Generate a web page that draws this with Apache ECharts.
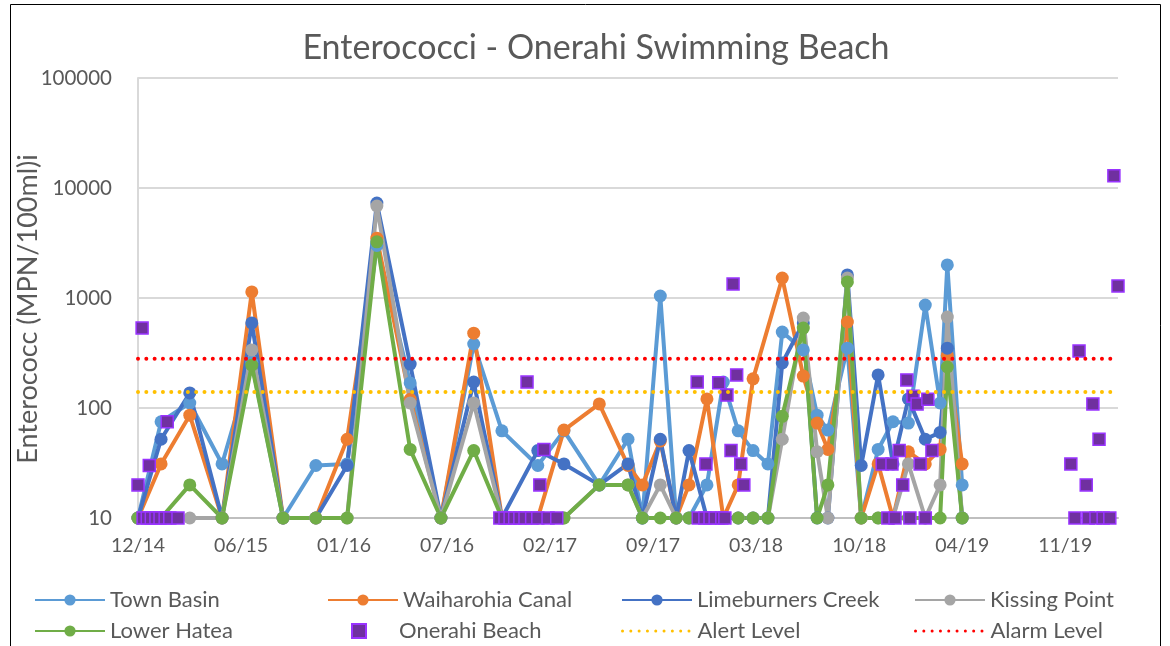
<!DOCTYPE html>
<html><head><meta charset="utf-8">
<script src="https://cdn.jsdelivr.net/npm/echarts@6/dist/echarts.min.js"></script>
<style>html,body{margin:0;padding:0;background:#fff}#c{width:1170px;height:646px}</style>
</head><body><div id="c"></div>
<script>
// ---- data ----
const sampleDates = ['2014-12-01','2015-01-15','2015-03-12','2015-05-14','2015-07-11','2015-09-10','2015-11-13','2016-01-13','2016-03-11','2016-05-15','2016-07-14','2016-09-16','2016-11-10','2017-01-19','2017-03-11','2017-05-19','2017-07-14','2017-08-11','2017-09-15','2017-10-16','2017-11-10','2017-12-15','2018-01-16','2018-02-14','2018-03-15','2018-04-13','2018-05-11','2018-06-21','2018-07-18','2018-08-08','2018-09-15','2018-10-12','2018-11-14','2018-12-13','2019-01-12','2019-02-14','2019-03-15','2019-03-29','2019-04-27'];
const townBasin   = [10,75,111,31,260,10,30,31,3000,169,10,382,62,30,62,20,52,10,1043,10,10,20,172,62,41,31,490,337,86,63,350,10,42,75,73,863,111,2000,20];
const waiharohia  = [10,31,86,10,1135,10,10,52,3500,120,10,479,10,10,63,109,30,20,50,10,20,121,10,20,184,null,1520,195,73,42,605,10,31,10,40,31,42,300,31];
const limeburners = [10,52,137,10,593,10,10,30,7300,251,10,172,10,41,31,20,31,10,52,10,41,10,10,10,10,10,257,593,10,10,1620,30,200,31,121,52,60,350,10];
const kissingPoint= [10,10,10,10,337,10,10,10,6860,111,10,111,10,10,10,20,20,10,20,10,10,10,10,10,10,10,52,658,40,10,1520,10,10,10,31,10,20,671,10];
const lowerHatea  = [10,10,20,10,245,10,10,10,3240,42,10,41,10,10,10,20,20,10,10,10,10,10,10,10,10,10,84,533,10,20,1400,10,10,10,10,10,10,236,10];

const onerahiDates = ['2014-12-01','2014-12-09','2014-12-11','2014-12-19','2014-12-23','2014-12-27','2015-01-05','2015-01-13','2015-01-23','2015-01-27','2015-02-01','2015-02-17',
 '2016-11-06','2016-11-16','2016-11-26','2016-12-05','2016-12-15','2016-12-25','2016-12-29','2017-01-07','2017-01-19','2017-01-23','2017-01-31','2017-02-08','2017-02-25',
 '2017-11-26','2017-11-28','2017-12-11','2017-12-13','2017-12-21','2017-12-31','2018-01-07','2018-01-13','2018-01-19','2018-01-23','2018-01-31','2018-02-04','2018-02-11','2018-02-19','2018-02-25',
 '2018-11-22','2018-12-03','2018-12-11','2018-12-17','2018-12-25','2019-01-01','2019-01-09','2019-01-15','2019-01-21','2019-01-29','2019-02-04','2019-02-14','2019-02-19','2019-02-27',
 '2019-11-25','2019-12-03','2019-12-11','2019-12-25','2019-12-29','2020-01-07','2020-01-13','2020-01-19','2020-01-27','2020-02-09','2020-02-17','2020-02-25'];
const onerahiBeach = [20,533,10,10,30,10,10,10,10,75,10,10,
 10,10,10,10,10,10,172,10,10,20,42,10,10,
 172,10,10,31,10,10,170,10,10,131,41,1340,200,31,20,
 31,10,31,10,41,20,180,10,128,109,31,10,120,41,
 31,10,330,20,10,109,10,52,10,10,12900,1285];

const alertLevel = 140;
const alarmLevel = 280;

const xTickLabels = ['12/14','06/15','01/16','07/16','02/17','09/17','03/18','10/18','04/19','11/19'];
const yTickLabels = ['10','100','1000','10000','100000'];
const axisStart = '2014-12-01';
const axisEnd = '2020-02-25';
const tickDays = 201;

// ---- helpers ----
const FONT = 'Lato, "Open Sans", sans-serif';
const GREY = '#595959';
const DAY = 864e5;
const t0 = Date.parse(axisStart);
const toDay = s => Math.round((Date.parse(s) - t0) / DAY);
const pairs = (dates, vals) => dates.map((d, i) => vals[i] == null ? null : [toDay(d), vals[i]]).filter(Boolean);
const xMax = toDay(axisEnd);

function site(name, color, vals) {
  return {
    name, type: 'line', data: pairs(sampleDates, vals),
    symbol: 'circle', symbolSize: 13, showSymbol: true,
    lineStyle: { color, width: 4 }, itemStyle: { color },
    emphasis: { disabled: true }, animation: false, z: 2
  };
}
function level(name, color, v) {
  return {
    name, type: 'line', data: [[0, v], [xMax, v]], symbol: 'none',
    lineStyle: { color, width: 4, type: [0.01, 8.3], cap: 'round' },
    itemStyle: { color }, emphasis: { disabled: true }, animation: false, z: 4
  };
}

function legendAt(left, top, item) {
  return {
    left, top, padding: 0, orient: 'horizontal', itemWidth: 70, itemHeight: 14,
    textStyle: { color: GREY, fontSize: 22, fontFamily: FONT, lineHeight: 24 },
    selectedMode: false, data: [item]
  };
}
const R1 = 588, R2 = 619;
const hideSym = { opacity: 0 };

const chart = echarts.init(document.getElementById('c'), null, { renderer: 'canvas' });
chart.setOption({
  backgroundColor: '#fff',
  animation: false,
  graphic: [
    { type: 'rect', shape: { x: 10.5, y: 4.5, width: 1150, height: 700 }, style: { fill: 'none', stroke: '#000', lineWidth: 1 }, silent: true, z: -1 },
    { type: 'text', x: 596, y: 48, style: { text: 'Enterococci - Onerahi Swimming Beach', fill: GREY, font: '34px ' + FONT, textAlign: 'center', textVerticalAlign: 'middle' }, silent: true }
  ],
  grid: { left: 138, right: 52, top: 78, bottom: 128, containLabel: false },
  legend: [
    legendAt(34, R1, 'Town Basin'),
    legendAt(327, R1, 'Waiharohia Canal'),
    legendAt(621, R1, 'Limeburners Creek'),
    legendAt(914, R1, 'Kissing Point'),
    legendAt(34, R2, 'Lower Hatea'),
    legendAt(351, R2, { name: 'Onerahi Beach', icon: 'path://M0 0H10V10H0Z' }),
    legendAt(621, R2, { name: 'Alert Level', itemStyle: hideSym, lineStyle: { width: 3 } }),
    legendAt(914, R2, { name: 'Alarm Level', itemStyle: hideSym, lineStyle: { width: 3 } })
  ],
  xAxis: {
    type: 'value', min: 0, max: xMax, interval: tickDays,
    axisLine: { show: true, onZero: false, lineStyle: { color: '#BFBFBF', width: 2 } },
    axisTick: { show: false },
    splitLine: { show: false },
    axisLabel: {
      color: GREY, fontSize: 19.5, fontFamily: FONT, margin: 18, showMaxLabel: false,
      formatter: v => xTickLabels[Math.round(v / tickDays)] || ''
    }
  },
  yAxis: {
    type: 'log', logBase: 10, min: 10, max: 100000,
    name: 'Enterococc (MPN/100ml)i', nameLocation: 'middle', nameGap: 96, nameMoveOverlap: false,
    nameTextStyle: { color: GREY, fontSize: 27, fontFamily: FONT, padding: [0, 22, 0, 0] },
    axisLine: { show: true, lineStyle: { color: '#D9D9D9', width: 2 } },
    axisTick: { show: false },
    splitLine: { show: true, lineStyle: { color: '#D9D9D9', width: 2 } },
    axisLabel: {
      color: GREY, fontSize: 20.5, fontFamily: FONT, margin: 26,
      formatter: v => { const i = Math.round(Math.log10(v)) - 1; return yTickLabels[i] || ''; }
    }
  },
  series: [
    site('Town Basin', '#5B9BD5', townBasin),
    site('Waiharohia Canal', '#ED7D31', waiharohia),
    site('Limeburners Creek', '#4472C4', limeburners),
    site('Kissing Point', '#A5A5A5', kissingPoint),
    site('Lower Hatea', '#70AD47', lowerHatea),
    {
      name: 'Onerahi Beach', type: 'scatter', data: pairs(onerahiDates, onerahiBeach),
      symbol: 'rect', symbolSize: 12,
      itemStyle: { color: '#7030A0', borderColor: '#9933FF', borderWidth: 1.5, opacity: 1 },
      emphasis: { disabled: true }, animation: false, z: 3
    },
    level('Alert Level', '#FFC000', alertLevel),
    level('Alarm Level', '#FF0000', alarmLevel)
  ]
});
</script></body></html>
